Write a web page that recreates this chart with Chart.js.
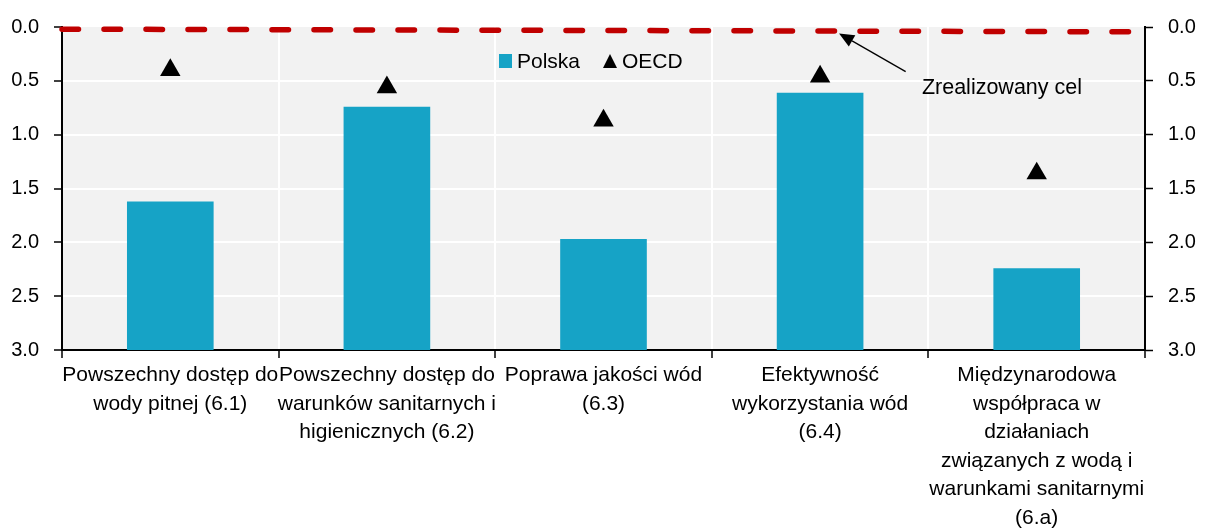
<!DOCTYPE html>
<html><head><meta charset="utf-8">
<script src="https://cdn.jsdelivr.net/npm/chart.js@4"></script>
<style>html,body{margin:0;padding:0;background:#fff;}canvas{display:block;}</style>
</head><body>
<canvas id="c" width="1205" height="530"></canvas>
<script>
// ---- data ----
const categories = [
  ["Powszechny dostęp do", "wody pitnej (6.1)"],
  ["Powszechny dostęp do", "warunków sanitarnych i", "higienicznych (6.2)"],
  ["Poprawa jakości wód", "(6.3)"],
  ["Efektywność", "wykorzystania wód", "(6.4)"],
  ["Międzynarodowa", "współpraca w", "działaniach", "związanych z wodą i", "warunkami sanitarnymi", "(6.a)"]
];
const seriesNames = ["Polska", "OECD"];
const polska = [1.62, 0.74, 1.97, 0.61, 2.24];
const oecd = [0.40, 0.56, 0.87, 0.46, 1.36];
const targetLine = [{x: 0, y: 0.02}, {x: 1, y: 0.045}];
const yTicks = [0, 0.5, 1.0, 1.5, 2.0, 2.5, 3.0];
const axisBase = 3;
const annotationText = "Zrealizowany cel";
const annotationAnchor = {tipX: 0.7175, tipY: 0.06, tailX: 0.779, tailY: 0.415, textX: 0.794, textY: 0.57};

// ---- style ----
const FONT = "'Liberation Sans', Arial, sans-serif";
const BAR = '#16A3C6';
const RED = '#C00000';
Chart.defaults.font.family = FONT;
Chart.defaults.color = '#000';

const plotBg = {
  id: 'plotBg',
  beforeDraw(chart) {
    const {ctx, chartArea: a} = chart;
    ctx.save();
    ctx.fillStyle = '#F2F2F2';
    ctx.fillRect(a.left, a.top, a.right - a.left, a.bottom - a.top);
    ctx.restore();
  }
};

const customLegend = {
  id: 'customLegend',
  afterDraw(chart) {
    const {ctx, chartArea: a} = chart;
    const barDs = chart.data.datasets[2], triDs = chart.data.datasets[1];
    ctx.save();
    ctx.font = '21px ' + FONT;
    ctx.textBaseline = 'middle';
    let x = a.left + 437;
    const y = a.top + 34;
    ctx.fillStyle = barDs.backgroundColor;
    ctx.fillRect(x, y - 7, 13, 14);
    x += 18;
    ctx.fillStyle = '#000';
    ctx.fillText(barDs.label, x, y + 1);
    x += ctx.measureText(barDs.label).width + 23;
    ctx.beginPath();
    ctx.moveTo(x + 7, y - 7);
    ctx.lineTo(x + 14, y + 7);
    ctx.lineTo(x, y + 7);
    ctx.closePath();
    ctx.fill();
    x += 19;
    ctx.fillText(triDs.label, x, y + 1);
    ctx.restore();
  }
};

const arrowNote = {
  id: 'arrowNote',
  afterDraw(chart) {
    const {ctx, scales} = chart;
    const sx = scales.xLin, sy = scales.y;
    const tx = sx.getPixelForValue(annotationAnchor.tipX), ty = sy.getPixelForValue(annotationAnchor.tipY);
    const lx = sx.getPixelForValue(annotationAnchor.tailX), ly = sy.getPixelForValue(annotationAnchor.tailY);
    const ang = Math.atan2(ty - ly, tx - lx);
    const hl = 15, hw = 6.5;
    const bx = tx - Math.cos(ang) * hl, by = ty - Math.sin(ang) * hl;
    ctx.save();
    ctx.strokeStyle = '#000';
    ctx.fillStyle = '#000';
    ctx.lineWidth = 1.3;
    ctx.beginPath();
    ctx.moveTo(lx, ly);
    ctx.lineTo(bx, by);
    ctx.stroke();
    ctx.beginPath();
    ctx.moveTo(tx, ty);
    ctx.lineTo(bx - Math.sin(ang) * hw, by + Math.cos(ang) * hw);
    ctx.lineTo(bx + Math.sin(ang) * hw, by - Math.cos(ang) * hw);
    ctx.closePath();
    ctx.fill();
    ctx.font = '21.5px ' + FONT;
    ctx.textBaseline = 'middle';
    ctx.fillText(annotationText, sx.getPixelForValue(annotationAnchor.textX), sy.getPixelForValue(annotationAnchor.textY));
    ctx.restore();
  }
};

const yCommon = {
  min: 0, max: 3, reverse: true,
  afterBuildTicks: s => { s.ticks = yTicks.map(v => ({value: v})); },
  ticks: {font: {size: 20}, padding: 15, callback: v => Number(v).toFixed(1), color: '#000'},
  border: {color: '#000', width: 2}
};

new Chart(document.getElementById('c'), {
  type: 'bar',
  data: {
    labels: categories,
    datasets: [
      {
        type: 'line', label: 'cel', data: targetLine, xAxisID: 'xLin', yAxisID: 'y',
        borderColor: RED, borderWidth: 5.5, borderDash: [16.5, 25.5], borderCapStyle: 'round',
        pointRadius: 0, fill: false, clip: false, order: 0
      },
      {
        type: 'line', label: seriesNames[1], data: oecd, xAxisID: 'x', yAxisID: 'y',
        showLine: false, pointStyle: 'triangle', pointRadius: 11.8, pointHoverRadius: 11.8,
        backgroundColor: '#000', borderColor: '#000', borderWidth: 0, order: 1
      },
      {
        type: 'bar', label: seriesNames[0], data: polska.map(v => [axisBase, v]),
        xAxisID: 'x', yAxisID: 'y', grouped: false,
        backgroundColor: BAR, borderWidth: 0, barPercentage: 0.4, categoryPercentage: 1.0, order: 2
      }
    ]
  },
  options: {
    responsive: false,
    animation: false,
    events: [],
    layout: {padding: {top: 25, left: 0, right: 0, bottom: 0}},
    plugins: {legend: {display: false}, tooltip: {enabled: false}},
    scales: {
      x: {
        type: 'category', position: 'bottom', offset: true,
        grid: {offset: true, color: '#FFFFFF', lineWidth: 2, tickColor: '#000', tickLength: 8, tickWidth: 1.5},
        border: {color: '#000', width: 2},
        ticks: {font: {size: 21, lineHeight: 1.36}, padding: 3, maxRotation: 0, minRotation: 0, autoSkip: false, color: '#000'},
        afterFit: s => { s.height = 180; }
      },
      xLin: {type: 'linear', display: false, min: 0, max: 1, position: 'bottom', offset: false, grid: {offset: false}},
      y: Object.assign({}, yCommon, {
        position: 'left',
        grid: {color: c => (c.tick && c.tick.value === 0) ? 'rgba(0,0,0,0)' : '#FFFFFF', lineWidth: 2, tickColor: '#000', tickLength: 8, tickWidth: 1.5},
        afterFit: s => { s.width = 62; }
      }),
      y2: Object.assign({}, yCommon, {
        position: 'right',
        grid: {drawOnChartArea: false, tickColor: '#000', tickLength: 8, tickWidth: 1.5},
        afterFit: s => { s.width = 60; }
      })
    }
  },
  plugins: [plotBg, customLegend, arrowNote]
});
</script>
</body></html>
